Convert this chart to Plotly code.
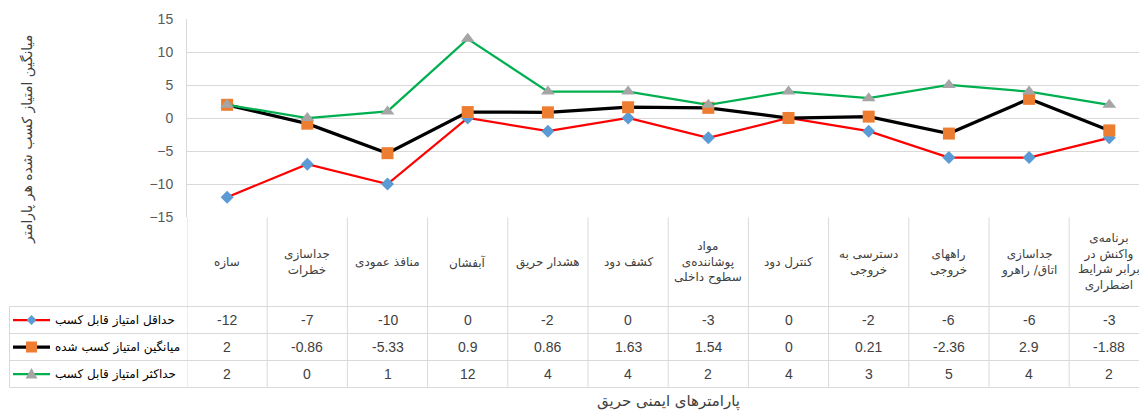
import plotly.graph_objects as go

# ---------------- data ----------------
categories = ["سازه", "جداسازی خطرات", "منافذ عمودی", "آبفشان", "هشدار حریق", "کشف دود",
              "مواد پوشاننده\u200cی سطوح داخلی", "کنترل دود", "دسترسی به خروجی", "راههای خروجی",
              "جداسازی اتاق/ راهرو", "برنامه\u200cی واکنش در برابر شرایط اضطراری"]
header_labels = ["سازه", "جداسازی<br>خطرات", "منافذ عمودی", "آبفشان", "هشدار حریق", "کشف دود",
                 "مواد<br>پوشاننده\u200cی<br>سطوح داخلی", "کنترل دود", "دسترسی به<br>خروجی",
                 "راههای<br>خروجی", "جداسازی<br>اتاق/ راهرو",
                 "برنامه\u200cی<br>واکنش در<br>برابر شرایط<br>اضطراری"]
min_vals = [-12, -7, -10, 0, -2, 0, -3, 0, -2, -6, -6, -3]
avg_vals = [2, -0.86, -5.33, 0.9, 0.86, 1.63, 1.54, 0, 0.21, -2.36, 2.9, -1.88]
max_vals = [2, 0, 1, 12, 4, 4, 2, 4, 3, 5, 4, 2]
series_names = ["حداقل امتیاز قابل کسب", "میانگین امتیاز کسب شده", "حداکثر امتیاز قابل کسب"]
y_ticks = [-15, -10, -5, 0, 5, 10, 15]
y_title = "میانگین امتیاز کسب شده هر پارامتر"
x_title = "پارامترهای ایمنی حریق"

# ---------------- layout helpers ----------------
W, H = 1139, 412
L, T, B = 187, 19, 195
PW, PH = W - L, H - T - B


def px2x(px):
    return (px - L) / PW


def px2y(py):
    return (T + PH - py) / PH


ARABIC = "DejaVu Sans"
NUM = "Liberation Sans"
GRID = "#D9D9D9"
TXT = "#404040"

line_colors = ["#FF0000", "#000000", "#00B050"]
line_widths = [2.25, 3.25, 2.25]
marker_colors = ["#5B9BD5", "#ED7D31", "#A5A5A5"]
marker_symbols = ["diamond", "square", "triangle-up"]
marker_sizes = [10, 12, 12]
series_vals = [min_vals, avg_vals, max_vals]

fig = go.Figure()
for name, vals, lc, lw, mc, ms, sz in zip(series_names, series_vals, line_colors, line_widths,
                                           marker_colors, marker_symbols, marker_sizes):
    fig.add_trace(go.Scatter(
        x=categories, y=vals, mode="lines+markers", name=name,
        line=dict(color=lc, width=lw),
        marker=dict(color=mc, symbol=ms, size=sz, line=dict(width=0)),
        cliponaxis=False, hoverinfo="skip",
    ))

n = len(categories)
x_right = -0.5 + PW / 80.2

shapes = []
annotations = []

# table geometry (pixels)
header_top, header_bot = 217.5, 306.5
row_lines = [306.5, 333.5, 360.5, 387.5]
table_left = 9.5

# vertical column lines
for k in range(n + 1):
    shapes.append(dict(type="line", xref="x", yref="paper", x0=k - 0.5, x1=k - 0.5,
                       y0=px2y(header_top), y1=px2y(row_lines[-1]),
                       line=dict(color=GRID, width=1)))
# left border of legend column
shapes.append(dict(type="line", xref="paper", yref="paper", x0=px2x(table_left), x1=px2x(table_left),
                   y0=px2y(row_lines[0]), y1=px2y(row_lines[-1]), line=dict(color=GRID, width=1)))
# horizontal row lines (legend part + column part)
for r in row_lines:
    shapes.append(dict(type="line", xref="paper", yref="paper", x0=px2x(table_left), x1=0,
                       y0=px2y(r), y1=px2y(r), line=dict(color=GRID, width=1)))
    shapes.append(dict(type="line", xref="x", yref="paper", x0=-0.5, x1=n - 0.5,
                       y0=px2y(r), y1=px2y(r), line=dict(color=GRID, width=1)))

# header labels
for k, lab in enumerate(header_labels):
    annotations.append(dict(x=k, y=px2y((header_top + header_bot) / 2), xref="x", yref="paper",
                            xanchor="center", yanchor="middle",
                            text=lab, showarrow=False, align="center",
                            font=dict(family=ARABIC, size=12, color=TXT)))

# table values and legend keys
for i, vals in enumerate(series_vals):
    cy = (row_lines[i] + row_lines[i + 1]) / 2
    for k, v in enumerate(vals):
        annotations.append(dict(x=k, y=px2y(cy), xref="x", yref="paper", text=str(v),
                                xanchor="center", yanchor="middle",
                                showarrow=False, font=dict(family=NUM, size=14, color=TXT)))
    # legend text
    annotations.append(dict(x=px2x(53), y=px2y(cy), xref="paper", yref="paper",
                            xanchor="left", yanchor="middle",
                            text=series_names[i], showarrow=False,
                            font=dict(family=ARABIC, size=12, color="#000000")))
    # legend line
    shapes.append(dict(type="line", xref="paper", yref="paper", x0=px2x(13), x1=px2x(50),
                       y0=px2y(cy), y1=px2y(cy),
                       line=dict(color=line_colors[i], width=line_widths[i])))
    mx = 31.5
    if i == 0:
        pts = [(mx - 5, cy), (mx, cy - 5), (mx + 5, cy), (mx, cy + 5)]
    elif i == 1:
        pts = [(mx - 5.5, cy - 5.5), (mx + 5.5, cy - 5.5), (mx + 5.5, cy + 5.5), (mx - 5.5, cy + 5.5)]
    else:
        pts = [(mx - 6, cy + 4.5), (mx + 6, cy + 4.5), (mx, cy - 6)]
    path = "M " + " L ".join(f"{px2x(a):.5f},{px2y(b):.5f}" for a, b in pts) + " Z"
    shapes.append(dict(type="path", xref="paper", yref="paper", path=path,
                       fillcolor=marker_colors[i], line=dict(width=0)))

# axis titles
annotations.append(dict(x=px2x(27), y=px2y(140), xref="paper", yref="paper", text=y_title,
                        xanchor="center", yanchor="middle",
                        textangle=-90, showarrow=False,
                        font=dict(family=ARABIC, size=14, color=TXT)))
annotations.append(dict(x=px2x(668), y=px2y(401.7), xref="paper", yref="paper", text=x_title,
                        xanchor="center", yanchor="middle",
                        showarrow=False, font=dict(family=ARABIC, size=15, color=TXT)))

fig.update_layout(
    width=W, height=H,
    margin=dict(l=L, r=0, t=T, b=B, pad=0),
    paper_bgcolor="white", plot_bgcolor="white",
    showlegend=False,
    shapes=shapes, annotations=annotations,
    xaxis=dict(type="category", range=[-0.5, x_right], showticklabels=False, showgrid=False,
               zeroline=False, showline=False, ticks=""),
    yaxis=dict(range=[-15, 15], tickvals=y_ticks, showgrid=True, gridcolor=GRID, gridwidth=1,
               zeroline=False, showline=True, linecolor=GRID, linewidth=1, ticks="",
               ticklabelstandoff=10,
               tickfont=dict(family=NUM, size=14, color="#595959")),
)

fig.write_html("out.html", config={"displayModeBar": False},
               post_script="document.body.style.margin='0';document.body.style.overflow='hidden';")
